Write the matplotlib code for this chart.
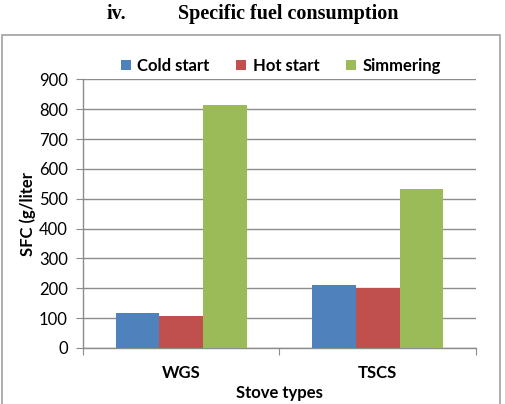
import matplotlib
matplotlib.use("Agg")
import matplotlib.pyplot as plt
import numpy as np
from matplotlib.patches import Rectangle

categories = ["WGS", "TSCS"]
series_names = ["Cold start", "Hot start", "Simmering"]
cold_start = [117, 211]
hot_start = [107, 202]
simmering = [813, 531]
colors = ["#4F81BD", "#C0504D", "#9BBB59"]
yticks = [0, 100, 200, 300, 400, 500, 600, 700, 800, 900]

W, H = 506, 404
fig = plt.figure(figsize=(W / 100, H / 100), dpi=100)
ax = fig.add_axes([83 / W, 1 - 348 / H, (476 - 83) / W, (348 - 79.3) / H])

sans = ["Lato", "DejaVu Sans"]
x = np.arange(len(categories))
bw = 0.222
for i, (vals, c, name) in enumerate(zip([cold_start, hot_start, simmering], colors, series_names)):
    ax.bar(x + (i - 1) * bw, vals, bw, color=c, label=name, zorder=3)

ax.set_xlim(-0.5, 1.5)
ax.set_ylim(0, 900)
ax.set_yticks(yticks)
ax.set_yticklabels([str(v) for v in yticks], fontfamily=sans, fontsize=12)
ax.set_xticks([-0.5, 0.5, 1.5], minor=False)
ax.set_xticklabels(["", "", ""])
ax.set_xticks(x, minor=True)
ax.set_xticklabels(categories, minor=True, fontfamily=sans, fontsize=12, fontweight="bold")
ax.tick_params(axis="x", which="minor", length=0, pad=12)
ax.tick_params(axis="x", which="major", length=5, color="#8C8C8C", direction="out")
ax.tick_params(axis="y", length=5, color="#8C8C8C", direction="out", pad=6)
ax.grid(axis="y", color="#8C8C8C", linewidth=1, zorder=0)
for s in ["top", "right"]:
    ax.spines[s].set_visible(False)
for s in ["left", "bottom"]:
    ax.spines[s].set_color("#8C8C8C")
    ax.spines[s].set_linewidth(1)

ax.set_ylabel("SFC (g/liter", fontfamily=sans, fontsize=12, fontweight="bold", labelpad=2)
ax.set_xlabel("Stove types", fontfamily=sans, fontsize=12, fontweight="bold", labelpad=3)

leg = fig.legend(loc="center", bbox_to_anchor=(281 / W, 1 - 66 / H), ncol=3, frameon=False,
                 prop={"family": sans, "size": 12, "weight": "bold"},
                 handlelength=0.6, handleheight=0.6, handletextpad=0.4, columnspacing=1.6)

fig.add_artist(Rectangle((2 / W, -0.05), (500 - 2) / W, 1 - 35 / H + 0.05,
                         transform=fig.transFigure, fill=False, edgecolor="#A0A0A0", linewidth=1.2))

fig.text(107 / W, 1 - 14 / H, "iv.", fontfamily="Liberation Serif", fontweight="bold",
         fontsize=14.5, ha="left", va="center")
fig.text(178 / W, 1 - 14 / H, "Specific fuel consumption", fontfamily="Liberation Serif",
         fontweight="bold", fontsize=14.5, ha="left", va="center")

fig.savefig("out.png", dpi=100)
